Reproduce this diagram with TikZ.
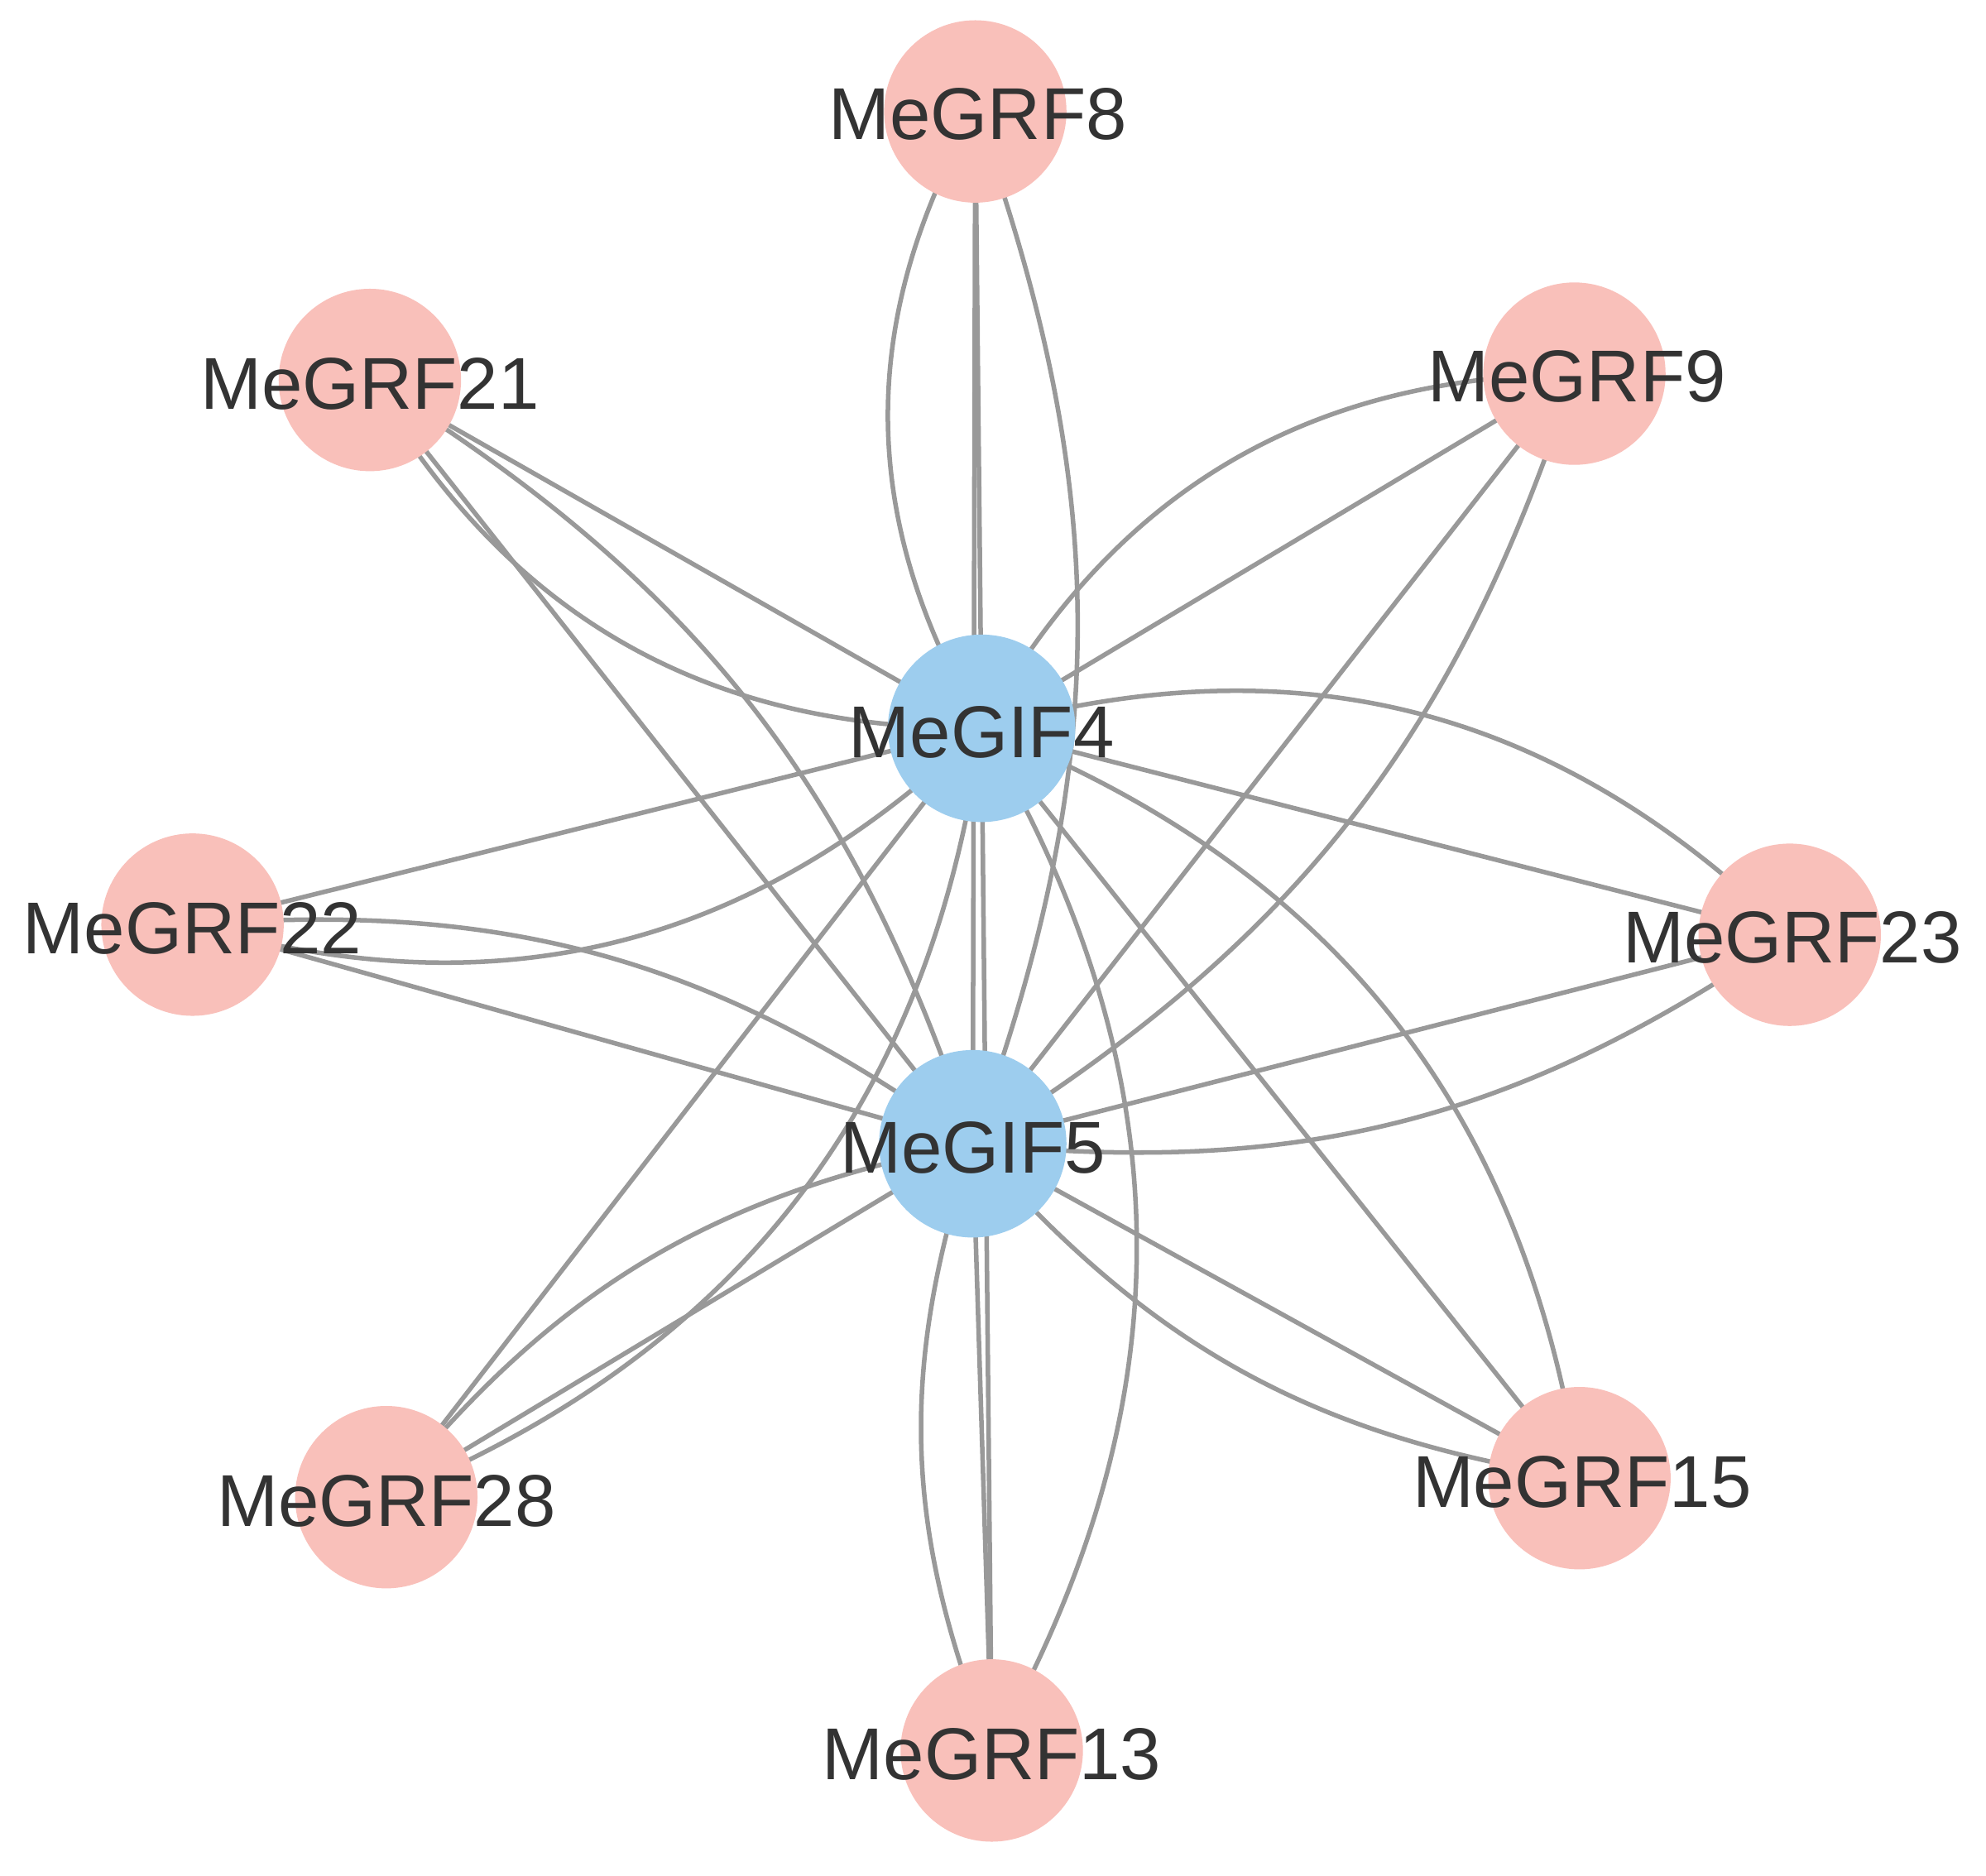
\documentclass[tikz,border=0pt]{standalone}
\usepackage{fontspec}
\setmainfont{Liberation Sans}
\definecolor{pinkc}{RGB}{249,192,186}
\definecolor{bluec}{RGB}{157,205,238}
\definecolor{edgec}{RGB}{153,153,153}
\definecolor{txtc}{RGB}{51,51,51}
\begin{document}
\begin{tikzpicture}[x=0.5pt,y=-0.5pt,
  grf/.style={circle,fill=pinkc,minimum size=72pt,inner sep=0pt},
  gif/.style={circle,fill=bluec,minimum size=74pt,inner sep=0pt},
  lbl/.style={text=txtc,font=\fontsize{29}{29}\selectfont,inner sep=0pt},
  edge/.style={draw=edgec,line width=1.8pt}]
\fill[white] (0,0) rectangle (1568,1481);
\useasboundingbox (0,0) rectangle (1568,1481);
\foreach \n/\x/\y in {g8/770/88, g21/292/300, g9/1243/295, g22/152/730, g23/1413/738, g28/305/1182, g15/1247/1167, g13/783/1382}
  \coordinate (\n) at (\x,\y);
\coordinate (f4) at (775,575);
\coordinate (f5) at (768,903);
\foreach \n in {g8,g21,g9,g22,g23,g28,g15,g13}{
  \draw[edge] (\n) -- (f4);
  \draw[edge] (\n) to[bend right=30] (f4);
  \draw[edge] (\n) -- (f5);
  \draw[edge] (\n) to[bend left=20] (f5);
}
\foreach \n in {g8,g21,g9,g22,g23,g28,g15,g13}
  \node[grf] at (\n) {};
\node[gif] at (f4) {};
\node[gif] at (f5) {};
\node[lbl] (l8) at (772,90) {MeGRF8};
\node[lbl] (l21) at (292,303) {MeGRF21};
\node[lbl] (l9) at (1245,297) {MeGRF9};
\node[lbl] (l22) at (152,733) {MeGRF22};
\node[lbl] (l23) at (1415,740) {MeGRF23};
\node[lbl] (l28) at (305,1185) {MeGRF28};
\node[lbl] (l15) at (1249,1170) {MeGRF15};
\node[lbl] (l13) at (783,1385) {MeGRF13};
\node[lbl] (l4) at (775,578) {MeGIF4};
\node[lbl] (l5) at (768,906) {MeGIF5};
\end{tikzpicture}
\end{document}
